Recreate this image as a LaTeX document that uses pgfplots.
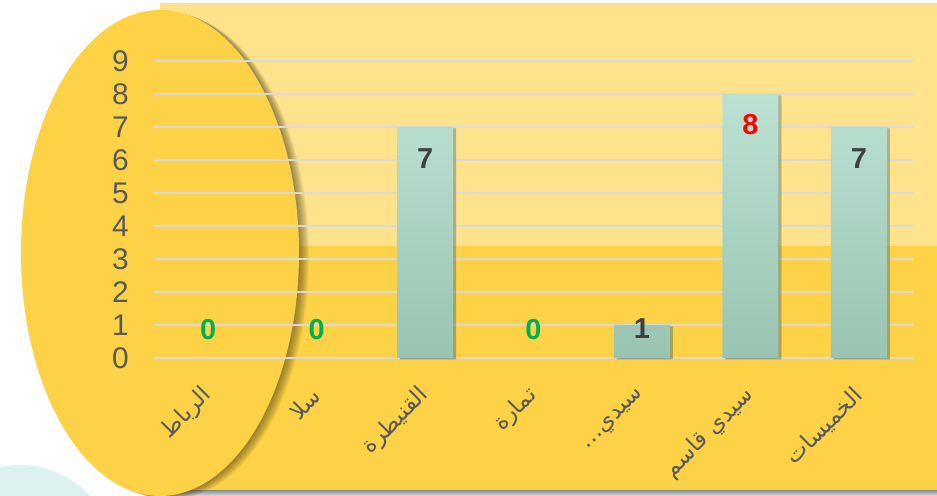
\documentclass[border=0pt]{standalone}
\usepackage{pgfplots}
\pgfplotsset{compat=1.18}
\usepackage{fontspec}
\setmainfont{Liberation Sans}
\newfontfamily\arabicfont[Script=Arabic]{DejaVu Sans}
\TeXXeTstate=1
\usetikzlibrary{shadows}
\definecolor{lowy}{HTML}{FDD247}
\definecolor{lighty}{HTML}{FEE28C}
\definecolor{tealbg}{HTML}{DDF1F0}
\definecolor{barT}{HTML}{BCE1D3}
\definecolor{barB}{HTML}{99C4B1}
\definecolor{gridc}{HTML}{D9D9D9}
\definecolor{txt}{HTML}{595959}
\definecolor{valgreen}{HTML}{00B050}
\definecolor{valdark}{HTML}{404040}
\definecolor{valred}{HTML}{FF0000}
\begin{document}
\begin{tikzpicture}[x=1bp,y=1bp]
\useasboundingbox (0,0) rectangle (937,496);
\begin{scope}
\clip (0,0) rectangle (937,496);
\fill[tealbg] (20,-64) circle (95);
\fill[tealbg] (190,-104) circle (113);
\shade[top color=black!45, bottom color=black!12] (160,0) rectangle (937,6);
\fill[lowy] (160,6) rectangle (937,250);
\fill[lighty] (160,250) rectangle (937,493);
\foreach \i in {1,...,9}
  \fill[black!70!lowy, opacity=0.08] ({160+\i*1.1},{243-\i*0.4}) ellipse [x radius=139, y radius=243];
\fill[lowy] (160,243) ellipse [x radius=139, y radius=243];
\end{scope}
\begin{axis}[
  at={(154bp,138bp)}, anchor=south west,
  scale only axis, width=759bp, height=297bp,
  xmin=-0.5, xmax=6.5, ymin=0, ymax=9,
  axis line style={draw=none},
  major tick length=0pt,
  clip=false,
  ytick={0,...,9},
  xtick={0,...,6},
  xticklabels={{\arabicfont\beginR الرباط\endR},{\arabicfont\beginR سلا\endR},{\arabicfont\beginR القنيطرة\endR},{\arabicfont\beginR تمارة\endR},{\arabicfont\beginR سيدي…\endR},{\arabicfont\beginR سيدي قاسم\endR},{\arabicfont\beginR الخميسات\endR}},
  ymajorgrids, grid style={gridc, line width=1.6bp},
  /pgf/number format/assume math mode=true,
  yticklabel style={font=\fontsize{30}{30}\selectfont, text=txt, anchor=east, inner sep=0pt, xshift=-25bp},
  xticklabel style={font=\fontsize{23}{23}\selectfont, text=txt, rotate=45, anchor=east, inner sep=0pt},
  xticklabel shift=34bp,
]
\addplot[ybar, bar width=56bp, bar shift=0pt, draw=none, top color=barT, bottom color=barB,
  drop shadow={shadow xshift=3bp, shadow yshift=-1.5bp, opacity=0.3, fill=black}]
  coordinates {(2,7) (4,1) (5,8) (6,7)};
\addplot[only marks, mark=*, mark size=0pt, mark options={draw=none,fill=none},
  point meta=explicit symbolic, nodes near coords,
  nodes near coords style={anchor=center, text=valgreen, font=\fontsize{29}{29}\selectfont\bfseries, inner sep=0pt}]
  table[meta=l] {
x y l
0 0.87 0
1 0.87 0
3 0.87 0
};
\addplot[only marks, mark=*, mark size=0pt, mark options={draw=none,fill=none},
  point meta=explicit symbolic, nodes near coords,
  nodes near coords style={anchor=center, text=valdark, font=\fontsize{29}{29}\selectfont\bfseries, inner sep=0pt}]
  table[meta=l] {
x y l
2 6.03 7
4 0.89 1
6 6.03 7
};
\addplot[only marks, mark=*, mark size=0pt, mark options={draw=none,fill=none},
  point meta=explicit symbolic, nodes near coords,
  nodes near coords style={anchor=center, text=valred, font=\fontsize{29}{29}\selectfont\bfseries, inner sep=0pt}]
  table[meta=l] {
x y l
5 7.06 8
};
\end{axis}
\end{tikzpicture}
\end{document}
